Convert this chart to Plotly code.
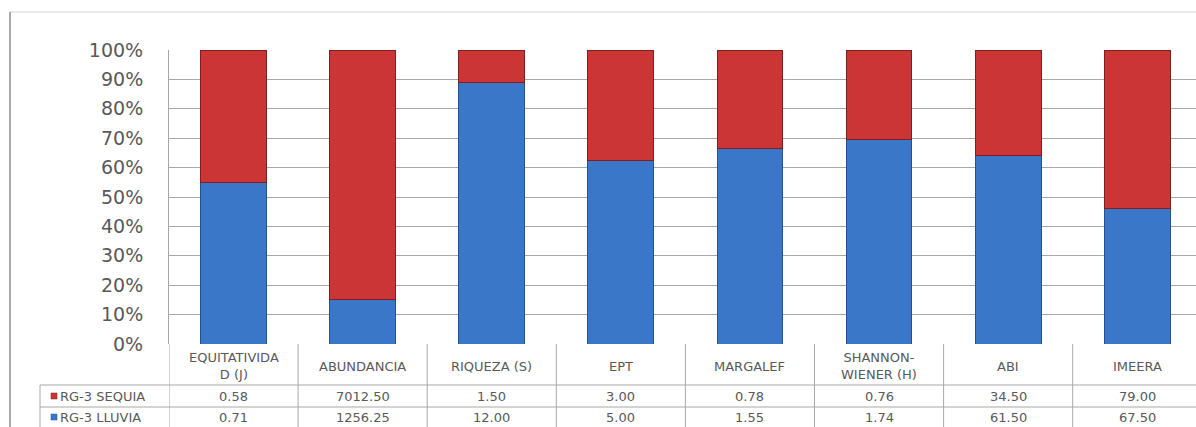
import plotly.graph_objects as go

# Indices compared between the two sampling campaigns of station RG-3
categories = ["EQUITATIVIDA<br>D (J)", "ABUNDANCIA", "RIQUEZA (S)", "EPT",
              "MARGALEF", "SHANNON-<br>WIENER (H)", "ABI", "IMEERA"]
sequia = [0.58, 7012.50, 1.50, 3.00, 0.78, 0.76, 34.50, 79.00]
lluvia = [0.71, 1256.25, 12.00, 5.00, 1.55, 1.74, 61.50, 67.50]
series_names = ["RG-3 SEQUIA", "RG-3 LLUVIA"]
y_ticks = [0, 10, 20, 30, 40, 50, 60, 70, 80, 90, 100]

BLUE = "#3b77c8"
BLUE_EDGE = "#23508f"
RED = "#cc3535"
RED_EDGE = "#7e1e1e"
TEXT = "#595959"
GRID = "#a8a8a8"
FONT = "DejaVu Sans"

W, H = 1196, 427
left, top, bottom_px = 169, 50, 344
plot_h = bottom_px - top
col_w = 129.1

x_idx = list(range(len(categories)))

fig = go.Figure()
fig.add_trace(go.Bar(x=x_idx, y=lluvia, name=series_names[1], width=0.51,
                     marker=dict(color=BLUE, line=dict(color=BLUE_EDGE, width=1))))
fig.add_trace(go.Bar(x=x_idx, y=sequia, name=series_names[0], width=0.51,
                     marker=dict(color=RED, line=dict(color=RED_EDGE, width=1))))

x_end = -0.5 + (W - left) / col_w


def py(pixel_y):
    """Pixel row -> paper y for annotations and shapes below the plot."""
    return (bottom_px - pixel_y) / plot_h


def px(pixel_x):
    """Pixel column -> paper x."""
    return (pixel_x - left) / (W - left)


shapes = []
annotations = []

# Data-table grid under the plot
line_style = dict(color=GRID, width=1)
for i in range(len(categories) + 1):
    shapes.append(dict(type="line", xref="x", yref="paper", x0=i - 0.5, x1=i - 0.5,
                       y0=py(344), y1=py(427), line=line_style))
for row_line in (385, 407):
    shapes.append(dict(type="line", xref="paper", yref="paper", x0=px(40), x1=1,
                       y0=py(row_line), y1=py(row_line), line=line_style))
shapes.append(dict(type="line", xref="paper", yref="paper", x0=px(40), x1=px(40),
                   y0=py(385), y1=py(427), line=line_style))

# Outer chart-area frame
shapes.append(dict(type="line", xref="paper", yref="paper", x0=px(10), x1=1,
                   y0=py(12), y1=py(12), line=dict(color="#d4d4d4", width=1)))
shapes.append(dict(type="line", xref="paper", yref="paper", x0=px(10), x1=px(10),
                   y0=py(12), y1=py(427), line=dict(color="#8c8c8c", width=1.5)))

# Legend keys inside the table
for row_y, color, edge in [(396, RED, RED_EDGE), (417, BLUE, BLUE_EDGE)]:
    shapes.append(dict(type="rect", xref="paper", yref="paper", x0=px(51), x1=px(57),
                       y0=py(row_y + 3), y1=py(row_y - 3),
                       fillcolor=color, line=dict(color=edge, width=0.5)))

tfont = dict(family=FONT, size=13, color=TEXT)
for i, cat in enumerate(categories):
    annotations.append(dict(x=i, y=py(366), xref="x", yref="paper", text=cat,
                            showarrow=False, font=tfont, align="center",
                            yanchor="middle"))
    annotations.append(dict(x=i, y=py(396), xref="x", yref="paper", text=f"{sequia[i]:.2f}",
                            showarrow=False, font=tfont, yanchor="middle"))
    annotations.append(dict(x=i, y=py(417), xref="x", yref="paper", text=f"{lluvia[i]:.2f}",
                            showarrow=False, font=tfont, yanchor="middle"))

for name, row_y in [(series_names[0], 396), (series_names[1], 417)]:
    annotations.append(dict(x=px(58), y=py(row_y), xref="paper", yref="paper",
                            text=name, showarrow=False, xanchor="left", yanchor="middle",
                            font=tfont))

fig.update_layout(
    width=W, height=H,
    margin=dict(l=left, r=0, t=top, b=H - bottom_px, pad=0),
    paper_bgcolor="white", plot_bgcolor="white",
    barmode="stack", barnorm="percent",
    showlegend=False,
    xaxis=dict(range=[-0.5, x_end], showticklabels=False, showgrid=False,
               zeroline=False, fixedrange=True),
    yaxis=dict(range=[0, 100], tickvals=y_ticks, ticktext=[f"{v}%" for v in y_ticks],
               tickfont=dict(family=FONT, size=19, color=TEXT),
               showgrid=True, gridcolor=GRID, gridwidth=1, zeroline=False,
               showline=True, linecolor=GRID, linewidth=1,
               ticks="", ticklabelstandoff=21),
    shapes=shapes,
    annotations=annotations,
)

fig.write_html("out.html")
